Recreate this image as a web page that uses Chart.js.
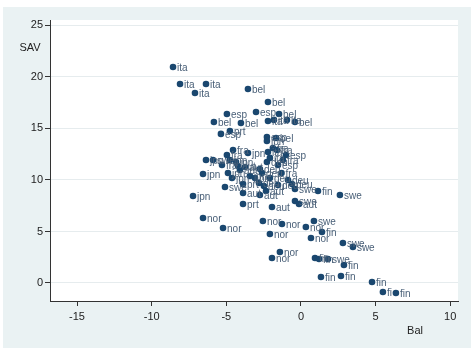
<!DOCTYPE html>
<html>
<head>
<meta charset="utf-8">
<script src="https://cdn.jsdelivr.net/npm/chart.js@4/dist/chart.umd.min.js"></script>
<style>
  html, body { margin: 0; padding: 0; background: #fff; }
  #wrap { width: 475px; height: 356px; }
</style>
</head>
<body>
<div id="wrap"><canvas id="chart" width="475" height="356"></canvas></div>
<script>
// country labels, current account balance (Bal) and savings (SAV)
var countries = ['ita','ita','ita','ita','bel','bel','esp','esp','bel','bel','bel','ita','ita','ita','bel',
    'prt','esp','esp','jpn','bel','fra','jpn','ita','fra','esp','jpn','swe','fra','jpn','fra','jpn','aut',
    'jpn','jpn','aut','deu','deu','esp','ita','fra','prt','swe','deu','deu','swe','fin','swe','jpn','aut',
    'aut','aut','prt','aut','swe','aut','nor','nor','nor','nor','swe','nor','fin','nor','nor','swe','swe',
    'nor','nor','fin','fin','swe','fin','fin','fin','fin','fi','fin',
    'fra','deu','deu','deu','deu','jpn','aut','jpn','deu','fra','prt'];
var bal = [-8.57,-8.10,-6.36,-7.10,-3.55,-2.21,-4.96,-3.01,-1.47,-5.83,-4.02,-2.21,-1.81,-0.94,-0.40,
    -4.76,-5.36,-2.28,-2.28,-1.67,-4.55,-3.55,-2.21,-1.61,-1.00,-6.36,-5.89,-4.96,-4.76,-5.29,-4.35,-3.75,
    -6.56,-4.89,-4.09,-2.75,-2.28,-1.54,-2.08,-1.21,-3.88,-5.09,-2.81,-1.54,-0.40,1.14,2.61,-7.23,-3.88,
    -2.75,-2.34,-3.88,-1.94,-0.40,-0.13,-6.56,-5.22,-2.55,-1.27,0.87,0.33,1.41,-2.08,0.67,2.81,3.48,
    -1.41,-1.94,0.94,1.21,1.81,2.88,1.34,2.68,4.76,5.49,6.36,
    -1.88,-2.61,-2.08,-0.87,-0.60,-3.42,-4.22,-4.62,-2.48,-1.30,-3.08];
var sav = [20.97,19.32,19.32,18.45,18.83,17.57,16.41,16.60,16.41,15.63,15.53,15.73,15.83,15.83,15.63,
    14.76,14.47,14.17,13.79,14.08,12.91,12.62,12.72,12.91,12.43,11.94,11.94,12.43,11.94,11.46,11.75,11.26,
    10.58,10.68,10.97,11.07,11.75,11.46,12.14,11.94,9.61,9.32,9.71,9.51,9.13,8.93,8.54,8.45,8.74,
    8.54,8.93,7.67,7.38,7.96,7.67,6.31,5.34,6.02,5.73,6.02,5.44,4.95,4.76,4.37,3.88,3.50,
    3.01,2.43,2.43,2.33,2.33,1.75,0.58,0.68,0.10,-0.87,-0.97,
    13.11,10.68,10.19,10.00,9.61,10.39,11.36,10.19,9.42,10.68,10.19];
var xTicks = [-15, -10, -5, 0, 5, 10];
var yTicks = [0, 5, 10, 15, 20, 25];

var points = bal.map(function (b, i) { return { x: b, y: sav[i] }; });

var backdrop = {
    id: 'backdrop',
    beforeDraw: function (chart) {
        var ctx = chart.ctx, a = chart.chartArea;
        ctx.save();
        ctx.fillStyle = '#eaf2f3';
        ctx.fillRect(3, 7, 468, 341);
        ctx.fillStyle = '#ffffff';
        ctx.fillRect(a.left, a.top, a.right - a.left, a.bottom - a.top);
        ctx.restore();
    }
};

var markerLabels = {
    id: 'markerLabels',
    afterDatasetsDraw: function (chart) {
        var ctx = chart.ctx;
        var meta = chart.getDatasetMeta(0);
        ctx.save();
        ctx.font = '10px "Liberation Sans", Arial, sans-serif';
        ctx.fillStyle = '#4a6078';
        ctx.textBaseline = 'middle';
        ctx.textAlign = 'left';
        meta.data.forEach(function (el, i) {
            ctx.fillText(countries[i], el.x + 4, el.y + 1);
        });
        // axis titles
        ctx.font = '11px "Liberation Sans", Arial, sans-serif';
        ctx.fillStyle = '#222';
        ctx.textAlign = 'center';
        ctx.fillText('SAV', 30, 48);
        ctx.fillText('Bal', 415, 331);
        ctx.restore();
    }
};

var ctx = document.getElementById('chart').getContext('2d');
new Chart(ctx, {
    type: 'scatter',
    data: {
        datasets: [{
            data: points,
            backgroundColor: '#1a476f',
            borderColor: '#1a476f',
            pointRadius: 3.3,
            borderWidth: 0
        }]
    },
    options: {
        responsive: false,
        animation: false,
        layout: { padding: { left: 3, right: 17, top: 20, bottom: 15 } },
        plugins: {
            legend: { display: false },
            tooltip: { enabled: false }
        },
        scales: {
            x: {
                min: -16.81,
                max: 10.52,
                afterBuildTicks: function (scale) {
                    scale.ticks = xTicks.map(function (v) { return { value: v }; });
                },
                afterFit: function (scale) { scale.height = 40; },
                grid: { drawOnChartArea: false, tickLength: 5, tickColor: '#333' },
                border: { color: '#333', width: 1 },
                ticks: {
                    color: '#222',
                    padding: 4,
                    maxRotation: 0,
                    font: { family: '"Liberation Sans", Arial, sans-serif', size: 11 }
                }
            },
            y: {
                min: -1.75,
                max: 25.53,
                afterBuildTicks: function (scale) {
                    scale.ticks = yTicks.map(function (v) { return { value: v }; });
                },
                afterFit: function (scale) { scale.width = 47; },
                grid: { color: '#e6ecee', tickLength: 5, tickColor: '#333' },
                border: { color: '#333', width: 1 },
                ticks: {
                    color: '#222',
                    padding: 2,
                    font: { family: '"Liberation Sans", Arial, sans-serif', size: 11 }
                }
            }
        }
    },
    plugins: [backdrop, markerLabels]
});
</script>
</body>
</html>
